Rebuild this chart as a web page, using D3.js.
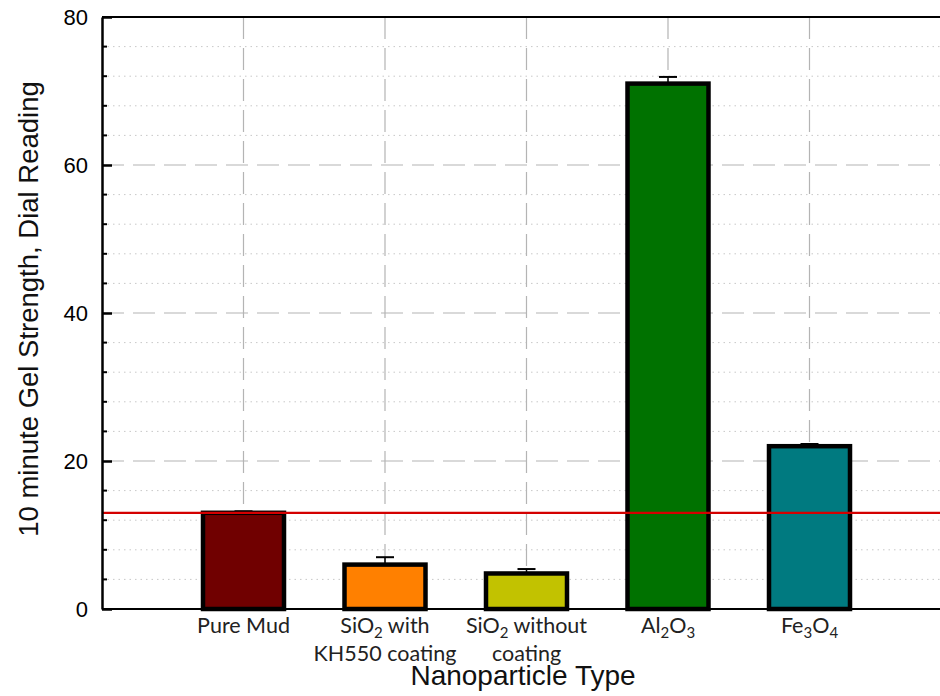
<!DOCTYPE html>
<html>
<head>
<meta charset="utf-8">
<script src="https://cdn.jsdelivr.net/npm/d3@7"></script>
<style>
  html, body { margin: 0; padding: 0; background: #fff; }
  svg { display: block; }
</style>
</head>
<body>
<svg id="chart" width="940" height="696"></svg>
<script>
// Nanoparticle types (label lines; [text, subscript] pieces per line)
const categories = ["Pure Mud", "SiO2 with KH550 coating", "SiO2 without coating", "Al2O3", "Fe3O4"];
const categoryLines = [
  [[["Pure Mud", ""]]],
  [[["SiO", ""], ["2", "sub"], [" with", ""]], [["KH550 coating", ""]]],
  [[["SiO", ""], ["2", "sub"], [" without", ""]], [["coating", ""]]],
  [[["Al", ""], ["2", "sub"], ["O", ""], ["3", "sub"]]],
  [[["Fe", ""], ["3", "sub"], ["O", ""], ["4", "sub"]]]
];
const gelStrength = [13, 6, 4.8, 71, 22];
const errorValues = [0.2, 1.0, 0.6, 0.9, 0.3];
const barColors = ["#700000", "#ff8000", "#c2c200", "#007200", "#007a80"];
const baselineValue = 13;
const yTicks = [0, 20, 40, 60, 80];

const svg = d3.select("#chart");
const plotLeft = 102, plotTop = 17, plotBottom = 609, plotRight = 951;

const x = d3.scaleLinear().domain([0, categories.length + 1]).range([plotLeft, plotRight]);
const y = d3.scaleLinear().domain([0, 80]).range([plotBottom, plotTop]);

const g = svg.append("g");

// minor horizontal grid (every 4 units)
const minor = d3.range(4, 80, 4).filter(v => v % 20 !== 0);
g.selectAll(".minor").data(minor).join("line")
  .attr("x1", plotLeft).attr("x2", plotRight)
  .attr("y1", d => y(d)).attr("y2", d => y(d))
  .attr("stroke", "#c8c8c8").attr("stroke-width", 1)
  .attr("stroke-dasharray", "1.5,4");

// major horizontal grid
g.selectAll(".major").data(yTicks.filter(v => v > 0 && v < 80)).join("line")
  .attr("x1", plotLeft).attr("x2", plotRight)
  .attr("y1", d => y(d)).attr("y2", d => y(d))
  .attr("stroke", "#b4b4b4").attr("stroke-width", 1.2)
  .attr("stroke-dasharray", "22,9");

// vertical grid at each category
g.selectAll(".vgrid").data(categories).join("line")
  .attr("x1", (d, i) => x(i + 1)).attr("x2", (d, i) => x(i + 1))
  .attr("y1", plotTop).attr("y2", plotBottom)
  .attr("stroke", "#b4b4b4").attr("stroke-width", 1.2)
  .attr("stroke-dasharray", "22,9");

// error bars (upper only)
const barW = 81;
g.selectAll(".err").data(gelStrength).join("line")
  .attr("x1", (d, i) => x(i + 1)).attr("x2", (d, i) => x(i + 1))
  .attr("y1", d => y(d)).attr("y2", (d, i) => y(d + errorValues[i]))
  .attr("stroke", "#000").attr("stroke-width", 1.5);
g.selectAll(".cap").data(gelStrength).join("line")
  .attr("x1", (d, i) => x(i + 1) - 9).attr("x2", (d, i) => x(i + 1) + 9)
  .attr("y1", (d, i) => y(d + errorValues[i])).attr("y2", (d, i) => y(d + errorValues[i]))
  .attr("stroke", "#000").attr("stroke-width", 2);

// bars
g.selectAll(".bar").data(gelStrength).join("rect")
  .attr("x", (d, i) => x(i + 1) - barW / 2)
  .attr("width", barW)
  .attr("y", d => y(d))
  .attr("height", d => y(0) - y(d))
  .attr("fill", (d, i) => barColors[i])
  .attr("stroke", "#000").attr("stroke-width", 4.5);

// reference line (pure mud level)
g.append("line")
  .attr("x1", plotLeft).attr("x2", plotRight)
  .attr("y1", y(baselineValue)).attr("y2", y(baselineValue))
  .attr("stroke", "#d40000").attr("stroke-width", 2.2);

// frame
g.append("line").attr("x1", plotLeft).attr("x2", plotRight).attr("y1", plotTop).attr("y2", plotTop)
  .attr("stroke", "#000").attr("stroke-width", 2);
g.append("line").attr("x1", plotLeft).attr("x2", plotRight).attr("y1", plotBottom).attr("y2", plotBottom)
  .attr("stroke", "#000").attr("stroke-width", 2);

// y axis with inward ticks
const yAxis = d3.axisLeft(y).tickValues(yTicks).tickSize(-10).tickPadding(14).tickSizeOuter(0);
const ya = g.append("g").attr("transform", `translate(${plotLeft},0)`).call(yAxis);
ya.select(".domain").attr("stroke", "#000").attr("stroke-width", 2.5);
ya.selectAll(".tick line").attr("stroke", "#000").attr("stroke-width", 2.5);
ya.selectAll(".tick text")
  .attr("font-family", "Liberation Sans, Arial, sans-serif")
  .attr("font-size", 22).attr("fill", "#000");
// minor ticks
g.selectAll(".mtick").data(minor).join("line")
  .attr("x1", plotLeft).attr("x2", plotLeft + 5)
  .attr("y1", d => y(d)).attr("y2", d => y(d))
  .attr("stroke", "#000").attr("stroke-width", 2);

// category labels
const lab = g.selectAll(".cat").data(categoryLines).join("text")
  .attr("text-anchor", "middle")
  .attr("font-family", "Lato, 'Open Sans', sans-serif")
  .attr("font-size", 21.5).attr("fill", "#222");
lab.each(function (lines, i) {
  const t = d3.select(this);
  lines.forEach((parts, li) => {
    const first = t.append("tspan").attr("x", x(i + 1)).attr("y", 633 + li * 27.5);
    parts.forEach((p, pi) => {
      const s = pi === 0 ? first.text(p[0]) : t.append("tspan").text(p[0]);
      if (p[1] === "sub") s.attr("font-size", 15).attr("dy", 5);
      else if (pi > 0 && parts[pi - 1][1] === "sub") s.attr("dy", -5);
    });
  });
});

// axis titles
svg.append("text")
  .attr("x", 523).attr("y", 685)
  .attr("text-anchor", "middle")
  .attr("font-family", "Liberation Sans, Arial, sans-serif")
  .attr("font-size", 28).attr("fill", "#111")
  .text("Nanoparticle Type");
svg.append("text")
  .attr("transform", `translate(38,309) rotate(-90)`)
  .attr("text-anchor", "middle")
  .attr("font-family", "Liberation Sans, Arial, sans-serif")
  .attr("font-size", 27.5).attr("fill", "#111")
  .text("10 minute Gel Strength, Dial Reading");
</script>
</body>
</html>
